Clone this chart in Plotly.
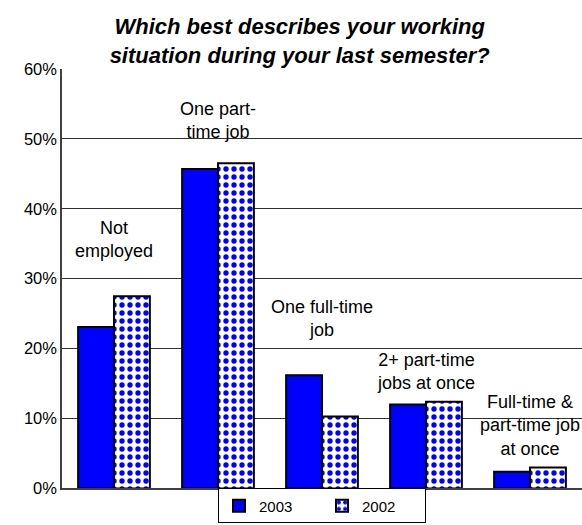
import plotly.graph_objects as go

# ── Data ─────────────────────────────────────────────────────────────────────
categories = ["Not employed", "One part-time job", "One full-time job",
              "2+ part-time jobs at once", "Full-time & part-time job at once"]
labels = ["Not<br>employed", "One part-<br>time job", "One full-time<br>job",
          "2+ part-time<br>jobs at once", "Full-time &<br>part-time job<br>at once"]
label_y = [32.3, 49.3, 21.0, 13.4, 3.9]
y2003 = [23.1, 45.7, 16.2, 12.0, 2.4]
y2002 = [27.5, 46.5, 10.3, 12.4, 3.0]

BLUE = "#0000FF"
FONT = "Liberation Sans, Arial, sans-serif"

fig = go.Figure()
fig.add_trace(go.Bar(
    x=categories, y=y2003, name="2003",
    marker=dict(color=BLUE, line=dict(color="#000000", width=2)),
))
fig.add_trace(go.Bar(
    x=categories, y=y2002, name="2002",
    marker=dict(
        color="#FFFFFF",
        line=dict(color="#000000", width=2),
        pattern=dict(shape=".", fgcolor=BLUE, bgcolor="#FFFFFF",
                     size=8, solidity=0.35, fillmode="replace"),
    ),
))

for cat, txt, ly in zip(categories, labels, label_y):
    fig.add_annotation(
        x=cat, y=ly, text=txt, showarrow=False,
        xanchor="center", yanchor="bottom",
        font=dict(size=18, color="#000000", family=FONT),
    )

fig.update_layout(
    width=582, height=525,
    title=dict(
        text="<b><i>Which best describes your working<br>situation during your last semester?</i></b>",
        x=0.515, xanchor="center", y=0.935, yanchor="middle",
        font=dict(size=22, color="#000000", family=FONT),
    ),
    barmode="group", bargap=0.31, bargroupgap=0,
    xaxis=dict(showticklabels=False, showline=True, linecolor="#404040",
               linewidth=1.5, ticks="", automargin=False),
    yaxis=dict(range=[0, 60], dtick=10, ticksuffix="%", showline=True,
               linecolor="#404040", linewidth=1.5, gridcolor="#303030",
               gridwidth=1, zeroline=False, automargin=False,
               tickfont=dict(size=16.5, color="#000000", family=FONT)),
    legend=dict(orientation="h", x=0.5, xanchor="center",
                yref="container", y=0.003, yanchor="bottom",
                bordercolor="#000000", borderwidth=1,
                font=dict(size=15, color="#000000", family=FONT),
                itemwidth=30, entrywidth=58, tracegroupgap=0),
    margin=dict(l=62, r=0, t=69, b=35),
    plot_bgcolor="#FFFFFF", paper_bgcolor="#FFFFFF",
    font=dict(family=FONT),
)

# drop the default page margin so the figure sits at the window's top-left
fig.write_html("out.html", config={"displayModeBar": False},
               post_script="document.body.style.margin='0';")
